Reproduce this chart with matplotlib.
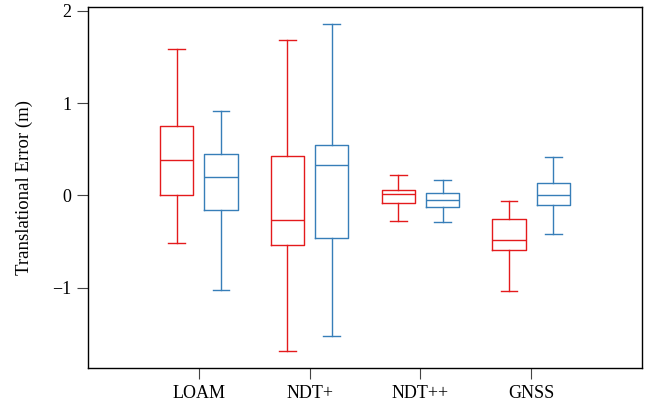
"""Box plot of translational error per localisation method (red / blue runs)."""

import matplotlib

matplotlib.use("Agg")
import matplotlib.pyplot as plt

# ─── data ────────────────────────────────────────────────────────────────────

methods = ["LOAM", "NDT+", "NDT++", "GNSS"]

# each row: whisker low, Q1, median, Q3, whisker high
red_stats = [
    [-0.52, 0.00, 0.38, 0.75, 1.59],
    [-1.69, -0.54, -0.27, 0.43, 1.68],
    [-0.28, -0.08, 0.01, 0.06, 0.22],
    [-1.04, -0.59, -0.48, -0.26, -0.06],
]
blue_stats = [
    [-1.02, -0.16, 0.20, 0.45, 0.91],
    [-1.52, -0.46, 0.33, 0.54, 1.86],
    [-0.29, -0.13, -0.05, 0.02, 0.17],
    [-0.42, -0.11, 0.00, 0.13, 0.42],
]

ylabel = "Translational Error (m)"
yticks = [-1, 0, 1, 2]

_RED = "#e41a1c"
_BLUE = "#377eb8"

plt.rcParams["font.family"] = ["Liberation Serif", "DejaVu Serif"]


def _to_bxp(rows):
    return [
        {"whislo": lo, "q1": q1, "med": med, "q3": q3, "whishi": hi, "fliers": []}
        for lo, q1, med, q3, hi in rows
    ]


def _draw(ax, rows, positions, color):
    line = {"color": color, "linewidth": 1.0}
    ax.bxp(
        _to_bxp(rows),
        positions=positions,
        widths=0.3,
        showfliers=False,
        boxprops=line,
        medianprops=line,
        whiskerprops=line,
        capprops=line,
        manage_ticks=False,
    )


fig = plt.figure(figsize=(6.52, 4.05), dpi=100)
ax = fig.add_axes([0.135, 0.0914, 0.8497, 0.8913])

centers = list(range(1, len(methods) + 1))
_draw(ax, red_stats, [c - 0.2 for c in centers], _RED)
_draw(ax, blue_stats, [c + 0.2 for c in centers], _BLUE)

ax.set_xlim(0, len(methods) + 1)
ax.set_ylim(-1.87, 2.04)
ax.set_xticks(centers)
ax.set_xticklabels(methods)
ax.set_yticks(yticks)
ax.tick_params(direction="out", length=8, width=0.8, color="#444444",
               labelsize=13, pad=4)
ax.set_ylabel(ylabel, fontsize=13.5, labelpad=14)

for s in ax.spines.values():
    s.set_linewidth(1.0)
    s.set_color("black")

fig.savefig("out.png", dpi=100)
